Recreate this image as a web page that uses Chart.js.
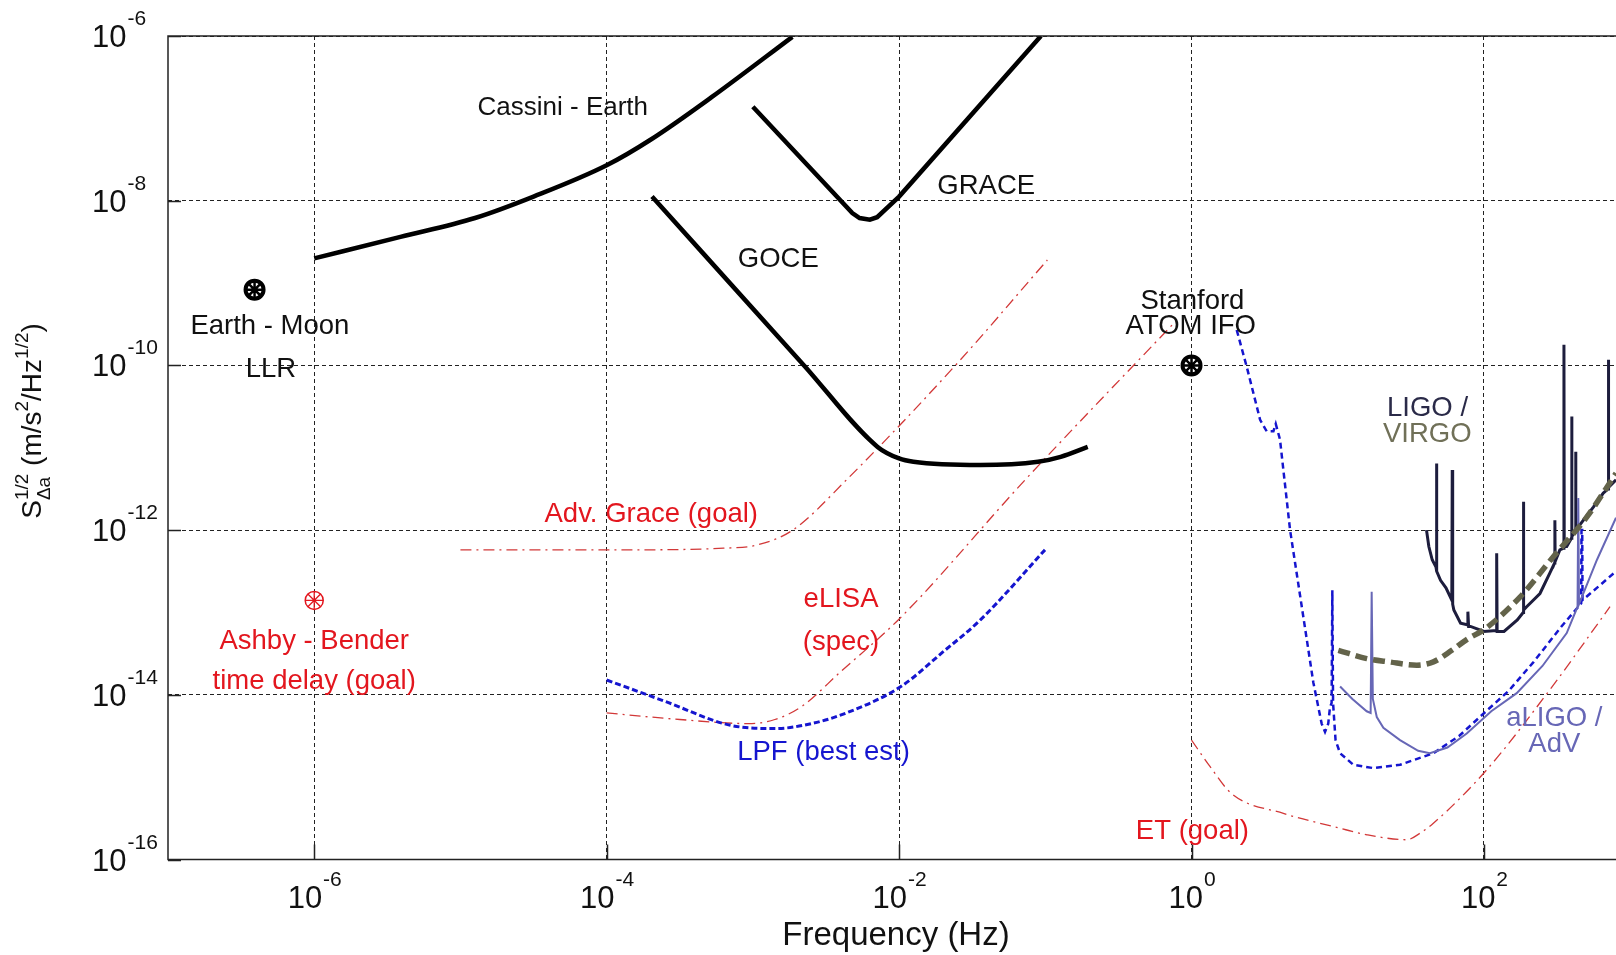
<!DOCTYPE html>
<html>
<head>
<meta charset="utf-8">
<script src="https://cdn.jsdelivr.net/npm/chart.js@4.4.1/dist/chart.umd.min.js"></script>
<style>
  html, body { margin: 0; padding: 0; background: #fff; overflow: hidden; }
  canvas { display: block; }
</style>
</head>
<body>
<canvas id="myChart" width="1616" height="955"></canvas>
<script>
// all values are log10 exponents: F in Hz, S in m/s^2/Hz^1/2
const xTickExps = [-6, -4, -2, 0, 2];
const yTickExps = [-6, -8, -10, -12, -14, -16];

const cassiniF = [-6.0, -5.41, -4.9, -4.5, -4.0, -3.7, -3.28, -2.73];
const cassiniS = [-8.70, -8.44, -8.21, -7.95, -7.57, -7.26, -6.74, -6.01];

const graceF = [-3.0, -2.32, -2.27, -2.2, -2.15, -2.0, -1.03];
const graceS = [-6.86, -8.15, -8.21, -8.23, -8.2, -7.95, -6.0];

const goceF = [-3.69, -2.65, -2.147, -2.0, -1.902, -1.444, -1.05, -0.895, -0.71];
const goceS = [-7.95, -10.0, -10.99, -11.13, -11.17, -11.21, -11.17, -11.11, -10.99];

const advGraceF = [-5.0, -3.9, -3.2, -2.97, -2.727, -2.36, -1.6, -0.986];
const advGraceS = [-12.24, -12.24, -12.22, -12.18, -12.0, -11.39, -9.97, -8.72];

const elisaF = [-4.0, -3.5, -3.03, -2.85, -2.665, -2.4, -1.994, -1.138, -0.101];
const elisaS = [-14.22, -14.3, -14.35, -14.3, -14.14, -13.72, -13.07, -11.39, -9.45];

const lpfF = [-4.0, -3.6, -3.154, -2.847, -2.6, -2.36, -1.988, -1.7, -1.444, -1.002];
const lpfS = [-13.82, -14.08, -14.37, -14.41, -14.35, -14.22, -13.9, -13.48, -13.09, -12.24];

const etF = [0.0, 0.126, 0.274, 0.628, 0.97, 1.2, 1.472, 1.563, 1.654, 2.019, 2.45, 2.862];
const etS = [-14.55, -14.87, -15.2, -15.44, -15.6, -15.7, -15.76, -15.68, -15.56, -14.91, -13.94, -12.93];

const atomF = [0.309, 0.378, 0.469, 0.514, 0.56, 0.576, 0.605, 0.674, 0.76, 0.833, 0.89, 0.913, 0.935, 0.947, 0.958, 0.963, 0.968, 0.985, 1.016, 1.107, 1.244, 1.426, 1.654, 1.83, 1.996, 2.17, 2.34, 2.53, 2.665, 2.667, 2.672, 2.674, 2.78, 2.903];
const atomS = [-9.57, -10.02, -10.66, -10.8, -10.8, -10.71, -10.9, -12.0, -13.0, -13.85, -14.35, -14.45, -14.35, -14.15, -14.1, -12.73, -14.1, -14.55, -14.71, -14.85, -14.89, -14.85, -14.71, -14.5, -14.23, -13.95, -13.6, -13.17, -12.89, -12.0, -12.0, -12.85, -12.69, -12.5];

const aligoF = [1.016, 1.1, 1.198, 1.225, 1.232, 1.24, 1.267, 1.312, 1.426, 1.55, 1.63, 1.75, 1.882, 2.05, 2.224, 2.4, 2.566, 2.64, 2.645, 2.65, 2.773, 2.903];
const aligoS = [-13.9, -14.05, -14.2, -14.22, -12.75, -14.05, -14.27, -14.4, -14.55, -14.68, -14.71, -14.64, -14.47, -14.2, -13.98, -13.65, -13.25, -12.93, -11.61, -12.9, -12.36, -11.85];

const ligoF = [1.607, 1.623, 1.646, 1.672, 1.675, 1.678, 1.703, 1.74, 1.78, 1.783, 1.786, 1.794, 1.84, 1.885, 1.89, 1.895, 1.908, 2.0, 2.085, 2.087, 2.09, 2.137, 2.228, 2.268, 2.27, 2.272, 2.292, 2.383, 2.451, 2.483, 2.485, 2.487, 2.519, 2.545, 2.547, 2.549, 2.566, 2.598, 2.6, 2.602, 2.625, 2.627, 2.629, 2.645, 2.748, 2.816, 2.849, 2.851, 2.853, 2.903];
const ligoS = [-12.0, -12.2, -12.36, -12.45, -11.19, -12.5, -12.61, -12.7, -12.85, -11.27, -12.9, -12.97, -13.13, -13.15, -12.99, -13.17, -13.17, -13.23, -13.22, -12.28, -13.23, -13.23, -13.09, -13.0, -11.655, -12.97, -12.93, -12.77, -12.52, -12.4, -11.88, -12.38, -12.24, -12.22, -9.75, -12.2, -12.2, -12.1, -10.62, -12.08, -12.0, -11.05, -11.98, -11.96, -11.72, -11.55, -11.5, -9.93, -11.48, -11.39];

const virgoF = [1.004, 1.198, 1.35, 1.54, 1.654, 1.78, 1.882, 2.007, 2.248, 2.476, 2.704, 2.903];
const virgoS = [-13.46, -13.56, -13.6, -13.64, -13.6, -13.46, -13.33, -13.2, -12.81, -12.32, -11.84, -11.31];

const llrF = [-6.408];
const llrS = [-9.08];
const atomPointF = [0.0];
const atomPointS = [-10.0];
const ashbyF = [-6.0];
const ashbyS = [-12.854];

const noteText = ['Cassini - Earth', 'GRACE', 'GOCE', 'Earth - Moon', 'LLR', 'Stanford', 'ATOM IFO',
  'LIGO /', 'VIRGO', 'Adv. Grace (goal)', 'eLISA', '(spec)', 'Ashby - Bender', 'time delay (goal)',
  'LPF (best est)', 'ET (goal)', 'aLIGO /', 'AdV'];
const noteF = [-4.30, -1.404, -2.826, -6.303, -6.296, 0.006, -0.005, 1.614, 1.612, -3.695, -2.397, -2.397,
  -6.0, -6.0, -2.517, 0.006, 2.481, 2.481];
const noteS = [-6.85, -7.80, -8.69, -9.50, -10.02, -9.195, -9.50, -10.50, -10.805, -11.783, -12.809, -13.335,
  -13.322, -13.81, -14.674, -15.637, -14.261, -14.573];

const FONT = '"Liberation Sans", Arial, Helvetica, sans-serif';
const RED = '#e3161e';
const RED_LINE = '#d23838';
const BLUE = '#1515cf';
const PURPLE = '#6767b6';
const NAVY = '#1d1d3d';
const OLIVE = '#63634a';

const noteColor = ['#111', '#111', '#111', '#111', '#111', '#111', '#111',
  '#2a2a48', '#707058', RED, RED, RED, RED, RED, BLUE, RED, PURPLE, PURPLE];

function pts(f, s) {
  return f.map((v, i) => ({ x: Math.pow(10, v), y: Math.pow(10, s[i]) }));
}

function line(f, s, style) {
  return Object.assign({ data: pts(f, s), pointRadius: 0, fill: false, tension: 0 }, style);
}

const dashDot = [11, 5, 2, 5];

const datasets = [
  // markers on top
  line(llrF, llrS, { showLine: false, pointStyle: 'circle', pointRadius: 9, pointBorderWidth: 4, pointBorderColor: '#000', pointBackgroundColor: 'rgba(0,0,0,0)' }),
  line(llrF, llrS, { showLine: false, pointStyle: 'star', pointRadius: 9, pointBorderWidth: 2.5, pointBorderColor: '#000' }),
  line(atomPointF, atomPointS, { showLine: false, pointStyle: 'circle', pointRadius: 9, pointBorderWidth: 4, pointBorderColor: '#000', pointBackgroundColor: 'rgba(0,0,0,0)' }),
  line(atomPointF, atomPointS, { showLine: false, pointStyle: 'star', pointRadius: 9, pointBorderWidth: 2.5, pointBorderColor: '#000' }),
  line(ashbyF, ashbyS, { showLine: false, pointStyle: 'circle', pointRadius: 9, pointBorderWidth: 1.5, pointBorderColor: RED, pointBackgroundColor: 'rgba(0,0,0,0)' }),
  line(ashbyF, ashbyS, { showLine: false, pointStyle: 'star', pointRadius: 9, pointBorderWidth: 1.3, pointBorderColor: RED }),

  line(virgoF, virgoS, { borderColor: OLIVE, borderWidth: 5.5, borderDash: [12, 6], cubicInterpolationMode: 'monotone' }),
  line(aligoF, aligoS, { borderColor: PURPLE, borderWidth: 2 }),
  line(atomF, atomS, { borderColor: BLUE, borderWidth: 2.5, borderDash: [6, 4] }),
  line(ligoF, ligoS, { borderColor: NAVY, borderWidth: 3 }),
  line(lpfF, lpfS, { borderColor: BLUE, borderWidth: 3, borderDash: [6, 3], cubicInterpolationMode: 'monotone' }),

  line(cassiniF, cassiniS, { borderColor: '#000', borderWidth: 4.5, cubicInterpolationMode: 'monotone' }),
  line(graceF, graceS, { borderColor: '#000', borderWidth: 4.5 }),
  line(goceF, goceS, { borderColor: '#000', borderWidth: 4.5, cubicInterpolationMode: 'monotone' }),

  line(advGraceF, advGraceS, { borderColor: RED_LINE, borderWidth: 1.3, borderDash: dashDot, cubicInterpolationMode: 'monotone' }),
  line(elisaF, elisaS, { borderColor: RED_LINE, borderWidth: 1.3, borderDash: dashDot, cubicInterpolationMode: 'monotone' }),
  line(etF, etS, { borderColor: RED_LINE, borderWidth: 1.3, borderDash: dashDot, cubicInterpolationMode: 'monotone' }),
];

function powerLabel(ctx, exp, x, baseY, centered) {
  ctx.font = '31px ' + FONT;
  const wb = ctx.measureText('10').width;
  ctx.font = '21px ' + FONT;
  const we = ctx.measureText(String(exp)).width;
  const x0 = centered ? x - (wb + we) / 2 : x;
  ctx.font = '31px ' + FONT;
  ctx.fillText('10', x0, baseY);
  ctx.font = '21px ' + FONT;
  ctx.fillText(String(exp), x0 + wb + 1, baseY - 22);
}

function drawYTitle(ctx) {
  const big = '28px ' + FONT;
  const small = '19px ' + FONT;
  ctx.font = big;
  const wS = ctx.measureText('S').width;
  const wA = ctx.measureText(' (m/s').width;
  const wB = ctx.measureText('/Hz').width;
  const wC = ctx.measureText(')').width;
  ctx.font = small;
  const wHalf = ctx.measureText('1/2').width;
  const wDa = ctx.measureText('\u0394a').width;
  const w2 = ctx.measureText('2').width;
  const total = wS + Math.max(wHalf, wDa) + wA + w2 + wB + wHalf + wC;
  ctx.save();
  ctx.translate(41, 421);
  ctx.rotate(-Math.PI / 2);
  let x = -total / 2;
  ctx.font = big; ctx.fillText('S', x, 0); x += wS;
  ctx.font = small; ctx.fillText('1/2', x, -13); ctx.fillText('\u0394a', x, 9); x += Math.max(wHalf, wDa);
  ctx.font = big; ctx.fillText(' (m/s', x, 0); x += wA;
  ctx.font = small; ctx.fillText('2', x, -13); x += w2;
  ctx.font = big; ctx.fillText('/Hz', x, 0); x += wB;
  ctx.font = small; ctx.fillText('1/2', x, -13); x += wHalf;
  ctx.font = big; ctx.fillText(')', x, 0);
  ctx.restore();
}

const decorations = {
  id: 'decorations',
  afterDatasetsDraw(chart) {
    const { ctx, chartArea: a, scales: { x, y } } = chart;
    ctx.save();
    // box and inward ticks
    ctx.setLineDash([]);
    ctx.strokeStyle = '#222';
    ctx.lineWidth = 1.5;
    ctx.beginPath();
    ctx.moveTo(a.right + 5, a.top); ctx.lineTo(a.left, a.top);
    ctx.lineTo(a.left, a.bottom); ctx.lineTo(a.right + 5, a.bottom);
    xTickExps.forEach(e => {
      const px = Math.round(x.getPixelForValue(Math.pow(10, e))) + 0.5;
      ctx.moveTo(px, a.bottom); ctx.lineTo(px, a.bottom - 15);
    });
    yTickExps.forEach(e => {
      const py = Math.round(y.getPixelForValue(Math.pow(10, e))) + 0.5;
      ctx.moveTo(a.left, py); ctx.lineTo(a.left + 13, py);
    });
    ctx.stroke();

    // tick labels
    ctx.fillStyle = '#111';
    ctx.textAlign = 'left';
    ctx.textBaseline = 'alphabetic';
    xTickExps.forEach(e => powerLabel(ctx, e, x.getPixelForValue(Math.pow(10, e)), 908, true));
    yTickExps.forEach(e => powerLabel(ctx, e, 92, y.getPixelForValue(Math.pow(10, e)) + 11, false));

    // axis titles
    ctx.font = '33px ' + FONT;
    ctx.textAlign = 'center';
    ctx.fillText('Frequency (Hz)', 896, 945);
    ctx.textAlign = 'left';
    drawYTitle(ctx);

    // curve labels
    ctx.textAlign = 'center';
    noteText.forEach((t, i) => {
      const size = i === 0 ? 26 : 27.5;
      ctx.font = size + 'px ' + FONT;
      ctx.fillStyle = noteColor[i];
      const px = x.getPixelForValue(Math.pow(10, noteF[i]));
      const py = y.getPixelForValue(Math.pow(10, noteS[i]));
      ctx.fillText(t, px, py + size * 0.358);
    });
    ctx.restore();
  }
};

function renderChart() {
  const ctx = document.getElementById('myChart');
  return new Chart(ctx, {
    type: 'line',
    data: { datasets },
    options: {
      responsive: false,
      animation: false,
      events: [],
      parsing: false,
      layout: { autoPadding: false, padding: { left: 168, right: 0, top: 36, bottom: 95.5 } },
      plugins: { legend: { display: false }, tooltip: { enabled: false } },
      scales: {
        x: {
          type: 'logarithmic',
          bounds: 'data',
          min: 1e-7,
          max: Math.pow(10, 2.903),
          afterBuildTicks: s => { s.ticks = xTickExps.map(e => ({ value: Math.pow(10, e) })); },
          afterFit: s => { s.height = 0; },
          ticks: { display: false },
          grid: { color: '#222', lineWidth: 1, drawTicks: false },
          border: { display: false, dash: [4, 3] }
        },
        y: {
          type: 'logarithmic',
          bounds: 'data',
          min: 1e-16,
          max: 1e-6,
          afterBuildTicks: s => { s.ticks = yTickExps.map(e => ({ value: Math.pow(10, e) })); },
          afterFit: s => { s.width = 0; },
          ticks: { display: false },
          grid: { color: '#222', lineWidth: 1, drawTicks: false },
          border: { display: false, dash: [4, 3] }
        }
      }
    },
    plugins: [decorations]
  });
}

renderChart();
</script>
</body>
</html>
